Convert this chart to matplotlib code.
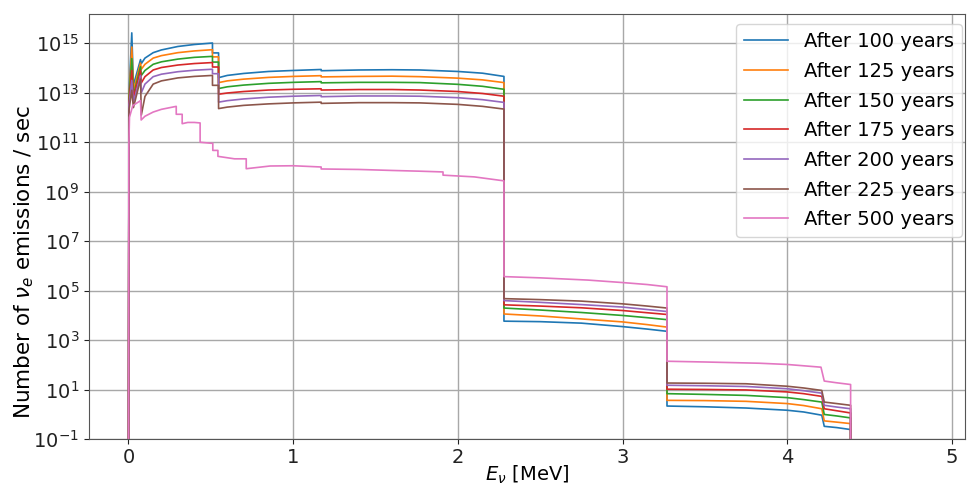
import numpy as np
import matplotlib
matplotlib.use("Agg")
import matplotlib.pyplot as plt

# energy grid shared by the 100..225 year curves (MeV); repeated values are vertical steps
e_main = [0.000, 0.003, 0.020, 0.030, 0.073, 0.078, 0.10, 0.15, 0.20, 0.30, 0.40,
          0.51, 0.51, 0.547, 0.547, 0.60, 0.70, 0.85, 1.00, 1.17, 1.17, 1.40, 1.60,
          1.77, 2.00, 2.15, 2.28, 2.28, 2.50, 2.75, 3.00, 3.15, 3.27, 3.27, 3.50,
          3.75, 4.00, 4.10, 4.21, 4.225, 4.30, 4.385, 4.385]

# log10 of emissions / sec
log_100 = [-3, 12.9, 15.42, 13.3, 14.34, 14.18, 14.40, 14.62, 14.73, 14.87, 14.95,
           15.01, 14.61, 14.61, 13.61, 13.70, 13.78, 13.86, 13.90, 13.94, 13.89, 13.92, 13.93,
           13.92, 13.86, 13.79, 13.66, 3.77, 3.75, 3.69, 3.55, 3.45, 3.36, 0.34, 0.31,
           0.26, 0.17, 0.10, -0.03, -0.48, -0.53, -0.61, -3]
log_125 = [-3, 12.8, 14.85, 13.1, 14.20, 13.95, 14.15, 14.40, 14.50, 14.62, 14.69,
           14.74, 14.45, 14.45, 13.41, 13.48, 13.55, 13.62, 13.66, 13.69, 13.64, 13.66, 13.67,
           13.65, 13.59, 13.52, 13.41, 4.06, 3.98, 3.86, 3.74, 3.63, 3.53, 0.57, 0.56,
           0.53, 0.44, 0.36, 0.23, -0.26, -0.31, -0.37, -3]
log_150 = [-3, 12.7, 14.38, 12.9, 14.05, 13.70, 13.90, 14.15, 14.25, 14.36, 14.43,
           14.47, 14.24, 14.24, 13.17, 13.24, 13.31, 13.38, 13.42, 13.45, 13.40, 13.42, 13.42,
           13.41, 13.34, 13.26, 13.14, 4.30, 4.22, 4.12, 4.00, 3.91, 3.83, 0.84, 0.81,
           0.77, 0.68, 0.60, 0.50, 0.00, -0.06, -0.14, -3]
log_175 = [-3, 12.6, 13.90, 12.8, 13.90, 13.40, 13.65, 13.92, 14.02, 14.12, 14.18,
           14.22, 14.04, 14.04, 12.94, 12.99, 13.05, 13.11, 13.14, 13.16, 13.11, 13.13, 13.13,
           13.11, 13.05, 12.97, 12.86, 4.43, 4.38, 4.31, 4.20, 4.11, 4.04, 1.02, 1.01,
           0.99, 0.91, 0.84, 0.73, 0.23, 0.15, 0.06, -3]
log_200 = [-3, 12.5, 13.50, 12.6, 13.70, 13.00, 13.35, 13.65, 13.75, 13.85, 13.91,
           13.95, 13.77, 13.77, 12.62, 12.68, 12.75, 12.82, 12.86, 12.89, 12.84, 12.87, 12.87,
           12.86, 12.80, 12.72, 12.61, 4.60, 4.53, 4.44, 4.34, 4.24, 4.16, 1.18, 1.16,
           1.13, 1.04, 0.96, 0.86, 0.37, 0.30, 0.23, -3]
log_225 = [-3, 12.3, 13.10, 12.4, 13.55, 12.10, 12.85, 13.35, 13.48, 13.60, 13.66,
           13.70, 13.30, 13.30, 12.36, 12.42, 12.49, 12.55, 12.59, 12.62, 12.57, 12.60, 12.60,
           12.59, 12.53, 12.45, 12.34, 4.68, 4.64, 4.58, 4.47, 4.38, 4.30, 1.27, 1.26,
           1.24, 1.14, 1.07, 0.97, 0.50, 0.44, 0.37, -3]

# the 500 year curve has its own steps
e_500 = [0.000, 0.002, 0.006, 0.026, 0.073, 0.077, 0.10, 0.15, 0.20, 0.29, 0.29,
         0.326, 0.326, 0.36, 0.40, 0.435, 0.435, 0.50, 0.512, 0.512, 0.543, 0.543, 0.644,
         0.715, 0.715, 0.86, 1.00, 1.17, 1.17, 1.40, 1.60, 1.77, 1.91, 1.91, 2.10,
         2.28, 2.28, 2.50, 2.79, 3.00, 3.15, 3.27, 3.27, 3.50, 3.83, 4.00, 4.205,
         4.225, 4.30, 4.385, 4.385]
log_500 = [-3, 10.8, 12.01, 12.48, 12.68, 11.90, 12.05, 12.22, 12.33, 12.45, 12.13,
           12.13, 11.75, 11.80, 11.80, 11.78, 11.00, 10.96, 10.96, 10.67, 10.67, 10.43, 10.33,
           10.33, 9.93, 10.04, 10.05, 10.00, 9.92, 9.90, 9.86, 9.83, 9.80, 9.67, 9.60,
           9.44, 5.57, 5.52, 5.43, 5.33, 5.25, 5.16, 2.15, 2.12, 2.07, 2.02, 1.91,
           1.35, 1.28, 1.21, -3]

labels = ["After 100 years", "After 125 years", "After 150 years", "After 175 years",
          "After 200 years", "After 225 years", "After 500 years"]
colors = ["tab:blue", "tab:orange", "tab:green", "tab:red", "tab:purple", "tab:brown", "tab:pink"]

fig = plt.figure(figsize=(9.67, 4.88), dpi=100)
ax = fig.add_axes([0.092, 0.100, 0.906, 0.871])

series = [log_100, log_125, log_150, log_175, log_200, log_225]
for vals, lab, col in zip(series, labels[:6], colors[:6]):
    ax.plot(e_main, 10.0 ** np.array(vals), color=col, lw=1.2, label=lab)
ax.plot(e_500, 10.0 ** np.array(log_500), color=colors[6], lw=1.2, label=labels[6])

ax.set_yscale("log")
ax.set_ylim(0.1, 1.5e16)
ax.set_xlim(-0.24, 5.08)
ax.set_yticks([10.0 ** k for k in range(-1, 16, 2)])
ax.minorticks_off()
ax.set_xticks([0, 1, 2, 3, 4, 5])
ax.tick_params(labelsize=14, colors="#222222")
ax.tick_params(axis="x", pad=2.5)
ax.grid(True, color="#a8a8a8", lw=1.0)
for s in ax.spines.values():
    s.set_color("#555555")

ax.set_xlabel(r"$E_\nu$ [MeV]", fontsize=14, labelpad=-2)
ax.set_ylabel(r"Number of $\nu_e$ emissions / sec", fontsize=15.5)
ax.yaxis.set_label_coords(-0.061, 0.416)
ax.legend(loc="upper right", bbox_to_anchor=(0.9966, 0.976), borderaxespad=0,
          fontsize=14, handlelength=2.3, labelspacing=0.55)

fig.savefig("out.png", dpi=100)
